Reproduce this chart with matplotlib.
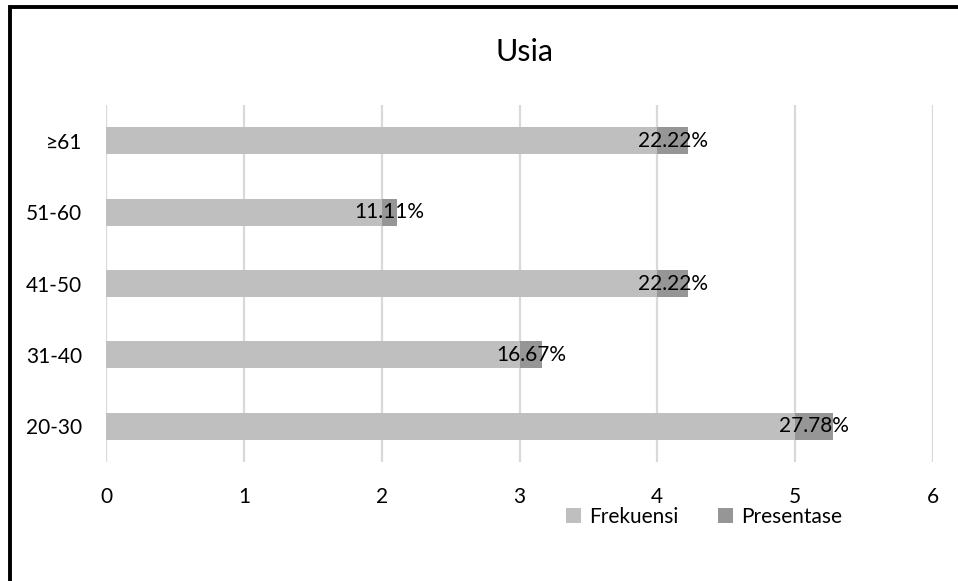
import matplotlib
matplotlib.use("Agg")
import matplotlib.pyplot as plt
from matplotlib.patches import Rectangle

plt.rcParams['font.family'] = ['Lato', 'DejaVu Sans']

categories = ["20-30", "31-40", "41-50", "51-60", "≥61"]
frekuensi = [5, 3, 4, 2, 4]
presentase = [0.2778, 0.1667, 0.2222, 0.1111, 0.2222]
labels = ["27.78%", "16.67%", "22.22%", "11.11%", "22.22%"]
xticks = [0, 1, 2, 3, 4, 5, 6]

c_frek = "#BFBFBF"
c_pres = "#969696"
fs = 15

fig = plt.figure(figsize=(9.58, 5.81), dpi=100)
ax = fig.add_axes([106/958, 1-462/581, (933-106)/958, (462-105)/581])

y = list(range(len(categories)))
ax.barh(y, frekuensi, height=0.38, color=c_frek, label="Frekuensi", zorder=3)
ax.barh(y, presentase, left=frekuensi, height=0.38, color=c_pres, label="Presentase", zorder=3)

for yi, f, p, lab in zip(y, frekuensi, presentase, labels):
    ax.text(f + p/2, yi, lab, ha='center', va='center', fontsize=fs, color='#000000', zorder=4)

ax.set_xlim(0, 6)
ax.set_ylim(-0.5, len(categories) - 0.5)
ax.set_xticks(xticks)
ax.set_xticklabels([str(t) for t in xticks])
ax.set_yticks(y)
ax.set_yticklabels(categories)
ax.tick_params(axis='both', length=0, labelsize=fs, colors='#000000')
ax.tick_params(axis='x', pad=18)
ax.tick_params(axis='y', pad=17)
ax.grid(axis='x', color='#D9D9D9', linewidth=1.6, zorder=0)
ax.set_axisbelow(True)
for s in ax.spines.values():
    s.set_visible(False)

fig.text(524/958, 1-52/581, "Usia", ha='center', va='center', fontsize=22)

h, l = ax.get_legend_handles_labels()
fig.legend(h, l, loc='center', bbox_to_anchor=(704/958, 1-517/581), ncol=2, frameon=False,
           fontsize=fs, handlelength=0.7, handleheight=0.7, handletextpad=0.4,
           columnspacing=1.9, borderpad=0)

# outer frame (cropped chart border)
fig.patches.append(Rectangle((10/958, -0.1), 1.2, 1 - 7/581 + 0.1, transform=fig.transFigure,
                             fill=False, edgecolor='#000000', linewidth=2.8))

fig.savefig("out.png", dpi=100)
